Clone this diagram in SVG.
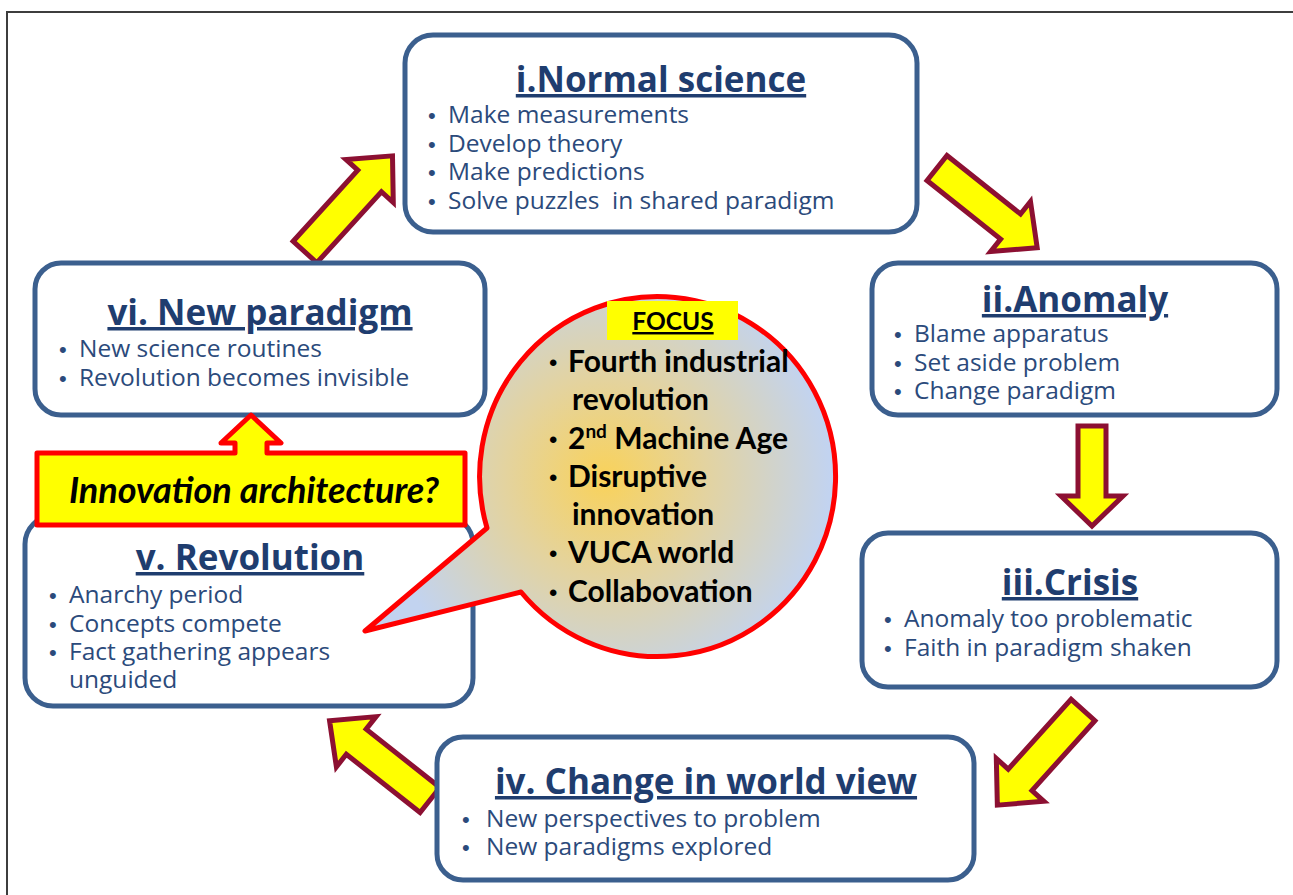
<svg xmlns="http://www.w3.org/2000/svg" width="1293" height="895" viewBox="0 0 1293 895">
  <defs>
    <style>
      .box { fill: #ffffff; stroke: #3b5f8e; stroke-width: 5; }
      .title { font-family: "Open Sans", "Liberation Sans", sans-serif; font-weight: bold; font-size: 35px; fill: #1f3d6f; text-anchor: middle; text-decoration: underline; }
      .item { font-family: "Open Sans", "Liberation Sans", sans-serif; font-size: 24.5px; fill: #2b4a7b; }
      .dot { font-family: "Liberation Sans", sans-serif; font-size: 22px; fill: #2b4a7b; }
      .arrow { fill: #ffff00; stroke: #8c1032; stroke-width: 5; }
      .focus { font-family: Lato, "Liberation Sans", sans-serif; font-weight: bold; font-size: 30px; fill: #000000; }
      .fdot { font-family: "Liberation Sans", sans-serif; font-size: 24px; fill: #000000; }
    </style>
    <radialGradient id="bubbleFill" gradientUnits="userSpaceOnUse" cx="605" cy="478" r="225">
      <stop offset="0" stop-color="#f9d25a"/>
      <stop offset="0.45" stop-color="#e3d3a0"/>
      <stop offset="1" stop-color="#c2d3f0"/>
    </radialGradient>
  </defs>

  <rect width="1293" height="895" fill="#ffffff"/>
  <!-- page frame -->
  <path d="M7,895 V12 H1293" fill="none" stroke="#3d3d3d" stroke-width="2"/>

  <!-- cycle arrows -->
  <g id="connectors">
    <polygon class="arrow" transform="translate(305,252) rotate(-47.7)" points="0,-16 96,-16 96,-32 130,0 96,32 96,16 0,16"/>
    <polygon class="arrow" transform="translate(937,168) rotate(38.5)" points="0,-16 94,-16 94,-32 128,0 94,32 94,16 0,16"/>
    <polygon class="arrow" transform="translate(1092,426) rotate(90)" points="0,-14 70,-14 70,-31 100,0 70,31 70,14 0,14"/>
    <polygon class="arrow" transform="translate(1083,710) rotate(132)" points="0,-16 94,-16 94,-32 128,0 94,32 94,16 0,16"/>
    <polygon class="arrow" transform="translate(430,800) rotate(218.3)" points="0,-16 94,-16 94,-32 128,0 94,32 94,16 0,16"/>
  </g>

  <g id="normal-science">
    <rect class="box" x="405" y="35" width="512" height="197" rx="28"/>
    <text class="title" x="661" y="92">i.Normal science</text>
    <text class="dot" x="428" y="123">•</text><text class="item" x="448" y="123">Make measurements</text>
    <text class="dot" x="428" y="152">•</text><text class="item" x="448" y="152">Develop theory</text>
    <text class="dot" x="428" y="180">•</text><text class="item" x="448" y="180">Make predictions</text>
    <text class="dot" x="428" y="209">•</text><text class="item" x="448" y="209" xml:space="preserve">Solve puzzles  in shared paradigm</text>
  </g>

  <g id="anomaly">
    <rect class="box" x="872" y="263" width="405" height="152" rx="26"/>
    <text class="title" x="1075" y="312">ii.Anomaly</text>
    <text class="dot" x="894" y="342">•</text><text class="item" x="914" y="342">Blame apparatus</text>
    <text class="dot" x="894" y="371">•</text><text class="item" x="914" y="371">Set aside problem</text>
    <text class="dot" x="894" y="399">•</text><text class="item" x="914" y="399">Change paradigm</text>
  </g>

  <g id="crisis">
    <rect class="box" x="862" y="533" width="415" height="154" rx="26"/>
    <text class="title" x="1070" y="595">iii.Crisis</text>
    <text class="dot" x="884" y="627">•</text><text class="item" x="904" y="627">Anomaly too problematic</text>
    <text class="dot" x="884" y="656">•</text><text class="item" x="904" y="656">Faith in paradigm shaken</text>
  </g>

  <g id="world-view">
    <rect class="box" x="437" y="737" width="537" height="143" rx="26"/>
    <text class="title" x="706" y="794">iv. Change in world view</text>
    <text class="dot" x="462" y="827">•</text><text class="item" x="486" y="827">New perspectives to problem</text>
    <text class="dot" x="462" y="855">•</text><text class="item" x="486" y="855">New paradigms explored</text>
  </g>

  <g id="revolution">
    <rect class="box" x="25" y="516" width="448" height="190" rx="28"/>
    <text class="title" x="250" y="570">v. Revolution</text>
    <text class="dot" x="49" y="603">•</text><text class="item" x="69" y="603">Anarchy period</text>
    <text class="dot" x="49" y="632">•</text><text class="item" x="69" y="632">Concepts compete</text>
    <text class="dot" x="49" y="660">•</text><text class="item" x="69" y="660">Fact gathering appears</text>
    <text class="item" x="69" y="688">unguided</text>
  </g>

  <g id="new-paradigm">
    <rect class="box" x="35" y="263" width="450" height="152" rx="26"/>
    <text class="title" x="260" y="325">vi. New paradigm</text>
    <text class="dot" x="59" y="357">•</text><text class="item" x="79" y="357">New science routines</text>
    <text class="dot" x="59" y="386">•</text><text class="item" x="79" y="386">Revolution becomes invisible</text>
  </g>

  <g id="innovation-architecture">
    <path d="M37,453 H235 V443 H221 L251,415 L281,443 H267 V453 H465 V525 H37 Z" fill="#ffff00" stroke="#ff0000" stroke-width="5" stroke-linejoin="round"/>
    <text x="254" y="503" text-anchor="middle" font-family="Lato, 'Liberation Sans', sans-serif" font-weight="bold" font-style="italic" font-size="36" fill="#000000">Innovation architecture?</text>
  </g>

  <g id="focus">
    <path d="M487,528 L365,631 L521,592 A178,180 0 1 0 487,528 Z" fill="url(#bubbleFill)" stroke="#ff0000" stroke-width="5" stroke-linejoin="round"/>
    <rect x="607" y="301" width="131" height="39" fill="#ffff00"/>
    <text x="673" y="330" text-anchor="middle" font-family="Lato, 'Liberation Sans', sans-serif" font-weight="bold" font-size="24.5" text-decoration="underline" fill="#000000">FOCUS</text>
    <text class="fdot" x="549" y="371">•</text><text class="focus" x="568" y="372">Fourth industrial</text>
    <text class="focus" x="572" y="410">revolution</text>
    <text class="fdot" x="549" y="448">•</text><text class="focus" x="568" y="449">2<tspan font-size="19" dy="-11">nd</tspan><tspan dy="11"> Machine Age</tspan></text>
    <text class="fdot" x="549" y="486">•</text><text class="focus" x="568" y="487">Disruptive</text>
    <text class="focus" x="572" y="525">innovation</text>
    <text class="fdot" x="549" y="562">•</text><text class="focus" x="568" y="563">VUCA world</text>
    <text class="fdot" x="549" y="601">•</text><text class="focus" x="568" y="602">Collabovation</text>
  </g>
</svg>
